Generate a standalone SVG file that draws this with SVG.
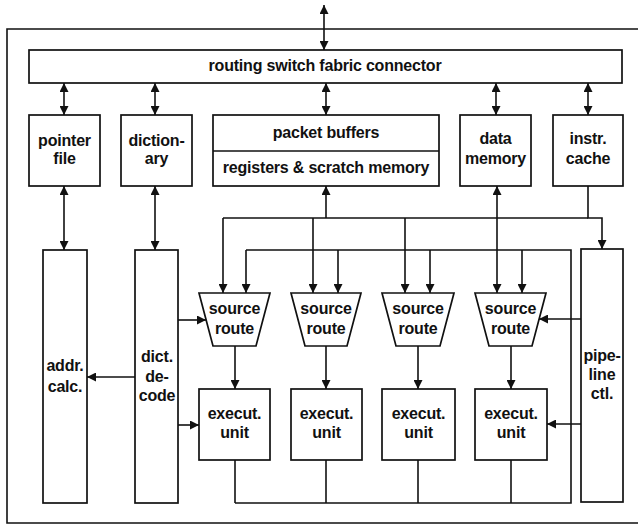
<svg xmlns="http://www.w3.org/2000/svg" width="638" height="524" viewBox="0 0 638 524">
  <defs>
    <marker id="ah" viewBox="0 0 10 10" refX="10" refY="5" markerWidth="11" markerHeight="9" markerUnits="userSpaceOnUse" orient="auto-start-reverse">
      <path d="M0,0 L10,5 L0,10 z" fill="#111"/>
    </marker>
    <style>
      .box { fill: #fff; stroke: #111; stroke-width: 1.7; }
      .ln { fill: none; stroke: #111; stroke-width: 1.6; }
      .a1 { marker-end: url(#ah); }
      .a2 { marker-start: url(#ah); marker-end: url(#ah); }
      text { font-family: "Liberation Sans", Arial, sans-serif; font-weight: bold; font-size: 16px; fill: #111; text-anchor: middle; letter-spacing: -0.2px; }
    </style>
  </defs>
  <rect width="638" height="524" fill="#fff"/>

  <!-- enclosing chip frame (open on the right) -->
  <path class="ln" d="M645,29 H7 V523 H645"/>

  <g id="routing-switch">
    <rect class="box" x="29" y="50" width="593" height="33"/>
    <text x="325" y="71">routing switch fabric connector</text>
  </g>

  <g id="pointer-file">
    <rect class="box" x="29" y="115" width="71" height="71"/>
    <text x="64.5" y="146">pointer</text>
    <text x="64.5" y="164">file</text>
  </g>

  <g id="dictionary">
    <rect class="box" x="121" y="115" width="71" height="71"/>
    <text x="156.5" y="146">diction-</text>
    <text x="156.5" y="164">ary</text>
  </g>

  <g id="packet-buffers">
    <rect class="box" x="213" y="115" width="226" height="71"/>
    <line class="ln" x1="213" y1="151" x2="439" y2="151"/>
    <text x="326" y="138">packet buffers</text>
    <text x="326" y="173">registers &amp; scratch memory</text>
  </g>

  <g id="data-memory">
    <rect class="box" x="460" y="115" width="71" height="71"/>
    <text x="495.5" y="144">data</text>
    <text x="495.5" y="164">memory</text>
  </g>

  <g id="instr-cache">
    <rect class="box" x="553" y="115" width="70" height="71"/>
    <text x="588" y="144">instr.</text>
    <text x="588" y="164">cache</text>
  </g>

  <g id="addr-calc">
    <rect class="box" x="43" y="250" width="44" height="253"/>
    <text x="65" y="371">addr.</text>
    <text x="65" y="392">calc.</text>
  </g>

  <g id="dict-decode">
    <rect class="box" x="135" y="250" width="43" height="253"/>
    <text x="157" y="362">dict.</text>
    <text x="157" y="382">de-</text>
    <text x="157" y="401">code</text>
  </g>

  <g id="pipeline-ctl">
    <rect class="box" x="581" y="249" width="42" height="253"/>
    <text x="602" y="361">pipe-</text>
    <text x="602" y="380">line</text>
    <text x="602" y="399">ctl.</text>
  </g>

  <g id="source-route-1">
    <path class="box" d="M199,293 H270 L256,346 H213 Z"/>
    <text x="234.5" y="314">source</text>
    <text x="234.5" y="334">route</text>
  </g>
  <g id="source-route-2">
    <path class="box" d="M291,293 H361 L347,346 H305 Z"/>
    <text x="326" y="314">source</text>
    <text x="326" y="334">route</text>
  </g>
  <g id="source-route-3">
    <path class="box" d="M382,293 H454 L440,346 H396 Z"/>
    <text x="418" y="314">source</text>
    <text x="418" y="334">route</text>
  </g>
  <g id="source-route-4">
    <path class="box" d="M475,293 H546 L532,346 H489 Z"/>
    <text x="510.5" y="314">source</text>
    <text x="510.5" y="334">route</text>
  </g>

  <g id="exec-unit-1">
    <rect class="box" x="199" y="389" width="71" height="71"/>
    <text x="234.5" y="419">execut.</text>
    <text x="234.5" y="438">unit</text>
  </g>
  <g id="exec-unit-2">
    <rect class="box" x="291" y="389" width="71" height="71"/>
    <text x="326.5" y="419">execut.</text>
    <text x="326.5" y="438">unit</text>
  </g>
  <g id="exec-unit-3">
    <rect class="box" x="382" y="389" width="73" height="71"/>
    <text x="418.5" y="419">execut.</text>
    <text x="418.5" y="438">unit</text>
  </g>
  <g id="exec-unit-4">
    <rect class="box" x="475" y="389" width="72" height="71"/>
    <text x="511" y="419">execut.</text>
    <text x="511" y="438">unit</text>
  </g>

  <g id="connectors">
    <!-- external port -->
    <line class="ln a2" x1="324" y1="5" x2="324" y2="50"/>
    <!-- fabric to memories -->
    <line class="ln a2" x1="64" y1="83" x2="64" y2="115"/>
    <line class="ln a2" x1="155" y1="83" x2="155" y2="115"/>
    <line class="ln a2" x1="326" y1="83" x2="326" y2="115"/>
    <line class="ln a2" x1="496" y1="83" x2="496" y2="115"/>
    <line class="ln a2" x1="588" y1="83" x2="588" y2="115"/>
    <!-- memories to decode units -->
    <line class="ln a2" x1="64" y1="186" x2="64" y2="250"/>
    <line class="ln a2" x1="155" y1="186" x2="155" y2="250"/>

    <!-- operand bus -->
    <line class="ln" x1="223" y1="218" x2="588" y2="218"/>
    <line class="ln a1" x1="326" y1="218" x2="326" y2="186"/>
    <line class="ln a1" x1="497" y1="218" x2="497" y2="186"/>
    <path class="ln a1" d="M588,186 V218 H602 V249"/>
    <line class="ln a1" x1="223" y1="218" x2="223" y2="293"/>
    <line class="ln a1" x1="313" y1="218" x2="313" y2="293"/>
    <line class="ln a1" x1="405" y1="218" x2="405" y2="293"/>
    <line class="ln a1" x1="497" y1="218" x2="497" y2="293"/>

    <!-- result feedback bus -->
    <path class="ln" d="M235,503 H571 V250 H246"/>
    <line class="ln a1" x1="246" y1="250" x2="246" y2="293"/>
    <line class="ln a1" x1="338" y1="250" x2="338" y2="293"/>
    <line class="ln a1" x1="430" y1="250" x2="430" y2="293"/>
    <line class="ln a1" x1="522" y1="250" x2="522" y2="293"/>

    <!-- source route to execution units -->
    <line class="ln a1" x1="235" y1="346" x2="235" y2="389"/>
    <line class="ln a1" x1="326" y1="346" x2="326" y2="389"/>
    <line class="ln a1" x1="418" y1="346" x2="418" y2="389"/>
    <line class="ln a1" x1="511" y1="346" x2="511" y2="389"/>
    <!-- execution units to result bus -->
    <line class="ln" x1="235" y1="460" x2="235" y2="503"/>
    <line class="ln" x1="326" y1="460" x2="326" y2="503"/>
    <line class="ln" x1="418" y1="460" x2="418" y2="503"/>
    <line class="ln" x1="511" y1="460" x2="511" y2="503"/>

    <!-- control from decode and pipeline -->
    <line class="ln a1" x1="135" y1="377" x2="87" y2="377"/>
    <line class="ln a1" x1="178" y1="320" x2="206" y2="320"/>
    <line class="ln a1" x1="178" y1="425" x2="199" y2="425"/>
    <line class="ln a1" x1="581" y1="319" x2="539" y2="319"/>
    <line class="ln a1" x1="581" y1="424" x2="547" y2="424"/>
  </g>
</svg>
